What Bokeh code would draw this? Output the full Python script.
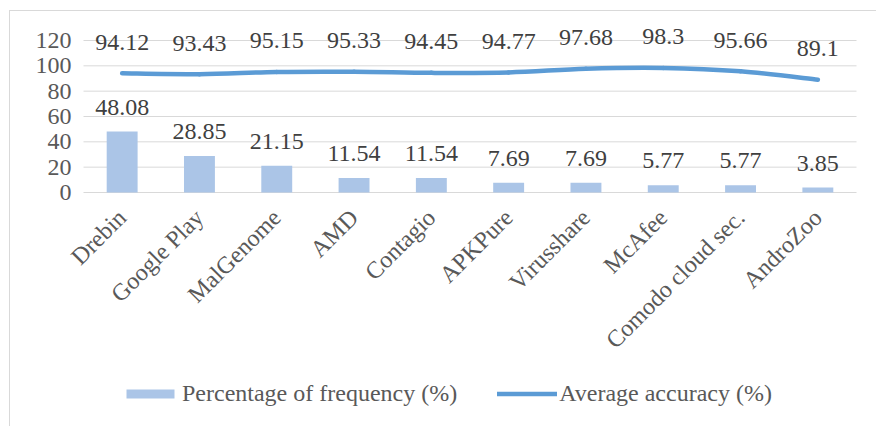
import math
from bokeh.plotting import figure
from bokeh.models import (ColumnDataSource, LabelSet, Legend, LegendItem, Range1d)
from bokeh.core.properties import value
from bokeh.embed import file_html
from bokeh.resources import INLINE

categories = ["Drebin", "Google Play", "MalGenome", "AMD", "Contagio", "APKPure",
              "Virusshare", "McAfee", "Comodo cloud sec.", "AndroZoo"]
frequency = [48.08, 28.85, 21.15, 11.54, 11.54, 7.69, 7.69, 5.77, 5.77, 3.85]
accuracy = [94.12, 93.43, 95.15, 95.33, 94.45, 94.77, 97.68, 98.3, 95.66, 89.1]
y_ticks = [0, 20, 40, 60, 80, 100, 120]

FONT = "Liberation Serif"
BAR_COLOR = "#ABC5E7"
LINE_COLOR = "#5B9BD5"
GRID = "#D9D9D9"
TXT = "#595959"
LBL = "#404040"

n = len(categories)
xs = [i + 0.5 for i in range(n)]

# layout: plotting area in canvas pixels (canvas is 870 x 420)
W, H = 870, 420
PLOT_L, PLOT_R, PLOT_T, PLOT_B = 73, 846, 29, 181
px_x = (PLOT_R - PLOT_L) / n
px_y = (PLOT_B - PLOT_T) / y_ticks[-1]
x_range = Range1d(-PLOT_L / px_x, n + (W - PLOT_R) / px_x)
y_range = Range1d(-(H - PLOT_B) / px_y, y_ticks[-1] + PLOT_T / px_y)

p = figure(width=W, height=H, x_range=x_range, y_range=y_range,
           output_backend="svg", toolbar_location=None,
           min_border_left=0, min_border_top=0, min_border_right=0,
           min_border_bottom=0)
p.margin = (10, 0, 0, 9)
p.styles = {"border": "1px solid #D9D9D9"}
p.outline_line_color = None
p.background_fill_color = "white"
p.border_fill_color = "white"
p.xaxis.visible = False
p.yaxis.visible = False
p.xgrid.grid_line_color = None
p.ygrid.grid_line_color = None

src = ColumnDataSource(dict(
    x=xs, zero=[0] * n, cat=categories, freq=frequency, acc=accuracy,
    freq_txt=[str(v) for v in frequency], acc_txt=[str(v) for v in accuracy]))
tsrc = ColumnDataSource(dict(y=y_ticks, x0=[0] * len(y_ticks),
                             x1=[n] * len(y_ticks),
                             txt=[str(t) for t in y_ticks]))

# gridlines
p.segment(x0="x0", y0="y", x1="x1", y1="y", source=tsrc, line_color=GRID,
          line_width=1)

bars = p.vbar(x="x", top="freq", width=0.4, source=src, fill_color=BAR_COLOR,
              line_color=None)

# smooth line (Bezier segments through the data points)
x0, y0, x1, y1, cx0, cy0, cx1, cy1 = [], [], [], [], [], [], [], []
for i in range(n - 1):
    pm = max(i - 1, 0)
    pp = min(i + 2, n - 1)
    x0.append(xs[i]); y0.append(accuracy[i])
    x1.append(xs[i + 1]); y1.append(accuracy[i + 1])
    cx0.append(xs[i] + (xs[i + 1] - xs[pm]) / 6)
    cy0.append(accuracy[i] + (accuracy[i + 1] - accuracy[pm]) / 6)
    cx1.append(xs[i + 1] - (xs[pp] - xs[i]) / 6)
    cy1.append(accuracy[i + 1] - (accuracy[pp] - accuracy[i]) / 6)
p.bezier(x0=x0, y0=y0, x1=x1, y1=y1, cx0=cx0, cy0=cy0, cx1=cx1, cy1=cy1,
         line_color=LINE_COLOR, line_width=4.5, line_cap="round")
legend_line = p.line(x=xs, y=[float("nan")] * n, line_color=LINE_COLOR,
                     line_width=4.5, line_cap="round")

common = dict(text_font=value(FONT), text_font_size=value("24px"),
              text_color=LBL, text_align="center", text_baseline="middle")
p.add_layout(LabelSet(x="x", y="freq", text="freq_txt", y_offset=24.5,
                      source=src, **common))
p.add_layout(LabelSet(x="x", y="acc", text="acc_txt", y_offset=31,
                      source=src, **common))

# y tick labels
p.add_layout(LabelSet(x="x0", y="y", text="txt", source=tsrc, x_offset=-12,
                      text_font=value(FONT), text_font_size=value("24px"),
                      text_color=TXT, text_align="right", text_baseline="middle"))

# category labels (rotated)
p.add_layout(LabelSet(x="x", y="zero", text="cat", source=src, angle=math.pi / 4,
                      text_font=value(FONT), text_font_size=value("24px"),
                      text_color=TXT, text_align="right", text_baseline="middle",
                      x_offset=0, y_offset=-21))

legend = Legend(items=[LegendItem(label="Percentage of frequency (%)", renderers=[bars]),
                       LegendItem(label="Average accuracy (%)", renderers=[legend_line])],
                orientation="horizontal", location=(110, 24),
                label_text_font=FONT, label_text_font_size="24px",
                label_text_color=TXT, glyph_width=60, glyph_height=11,
                label_standoff=2, spacing=40, border_line_color=None,
                background_fill_alpha=0, padding=0, margin=0)
p.add_layout(legend, "center")

open("out.html", "w").write(file_html(p, INLINE))
